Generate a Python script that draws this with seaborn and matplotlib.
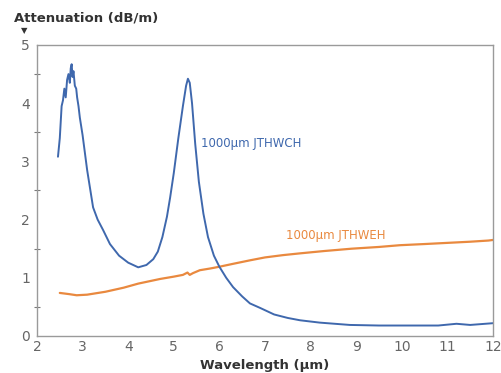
import matplotlib
matplotlib.use("Agg")
import matplotlib.pyplot as plt
import seaborn as sns
import pandas as pd

# Blue curve: 1000um JTHWCH
wch_x = [2.46, 2.50, 2.54, 2.57, 2.60, 2.63, 2.66, 2.69, 2.72, 2.74, 2.76, 2.78, 2.80,
         2.83, 2.86, 2.88, 2.91, 2.94, 2.97, 3.00, 3.10, 3.23, 3.33, 3.45, 3.60, 3.80,
         4.00, 4.22, 4.40, 4.55, 4.65, 4.75, 4.85, 4.92, 5.00, 5.10, 5.20, 5.27, 5.31,
         5.35, 5.40, 5.47, 5.55, 5.65, 5.75, 5.88, 6.00, 6.15, 6.30, 6.50, 6.67, 6.90,
         7.20, 7.50, 7.77, 8.20, 8.86, 9.50, 10.2, 10.8, 11.2, 11.5, 12.0]
wch_y = [3.08, 3.40, 3.95, 4.05, 4.25, 4.10, 4.40, 4.50, 4.35, 4.60, 4.67, 4.45, 4.55,
         4.30, 4.25, 4.10, 3.95, 3.75, 3.60, 3.45, 2.85, 2.21, 2.00, 1.82, 1.58, 1.38,
         1.26, 1.18, 1.22, 1.32, 1.45, 1.70, 2.05, 2.38, 2.80, 3.40, 3.95, 4.30, 4.42,
         4.35, 4.00, 3.30, 2.65, 2.10, 1.70, 1.38, 1.19, 1.00, 0.84, 0.68, 0.56, 0.48,
         0.37, 0.31, 0.27, 0.23, 0.19, 0.18, 0.18, 0.18, 0.21, 0.19, 0.22]

# Orange curve: 1000um JTHWEH
weh_x = [2.50, 2.70, 2.87, 3.10, 3.50, 3.90, 4.22, 4.40, 4.70, 5.00, 5.20, 5.30, 5.35,
         5.42, 5.57, 5.80, 6.00, 6.30, 6.67, 7.00, 7.40, 7.77, 8.30, 8.90, 9.50, 9.96,
         10.5, 11.0, 11.5, 11.9, 12.0]
weh_y = [0.74, 0.72, 0.70, 0.71, 0.76, 0.83, 0.90, 0.93, 0.98, 1.02, 1.05, 1.09, 1.05,
         1.08, 1.13, 1.16, 1.19, 1.24, 1.30, 1.35, 1.39, 1.42, 1.46, 1.50, 1.53, 1.56,
         1.58, 1.60, 1.62, 1.64, 1.65]

x_ticks = [2, 3, 4, 5, 6, 7, 8, 9, 10, 11, 12]
y_ticks = [0, 1, 2, 3, 4, 5]

blue = "#3f68ad"
orange = "#e9893f"

sns.set_theme(style="white")
plt.rcParams['font.family'] = ['DejaVu Sans']

fig = plt.figure(figsize=(5.02, 3.73), dpi=100)
ax = fig.add_axes([0.0737, 0.0992, 0.9083, 0.7802])

df_wch = pd.DataFrame({"x": wch_x, "y": wch_y})
df_weh = pd.DataFrame({"x": weh_x, "y": weh_y})
sns.lineplot(data=df_weh, x="x", y="y", ax=ax, color=orange, linewidth=1.6, sort=False)
sns.lineplot(data=df_wch, x="x", y="y", ax=ax, color=blue, linewidth=1.4, sort=False)

ax.set_xlim(2, 12)
ax.set_ylim(0, 5)
ax.set_xticks(x_ticks)
ax.set_yticks(y_ticks)
ax.set_yticks([0.5, 1.5, 2.5, 3.5, 4.5], minor=True)
ax.set_xlabel("")
ax.set_ylabel("")

gray = "#7a7a7a"
for s in ax.spines.values():
    s.set_color("#9a9a9a")
    s.set_linewidth(1.0)
ax.tick_params(axis="x", which="major", direction="in", length=4, width=0.8,
               color=gray, labelcolor="#666666", labelsize=10, pad=3)
ax.tick_params(axis="y", which="major", direction="inout", length=6, width=0.8,
               color=gray, labelcolor="#666666", labelsize=10, pad=2)
ax.tick_params(axis="y", which="minor", direction="inout", length=4, width=0.8,
               color=gray, left=True)

ax.text(5.6, 3.3, "1000µm JTHWCH", color=blue, fontsize=8.5, va="center", ha="left")
ax.text(7.46, 1.72, "1000µm JTHWEH", color=orange, fontsize=8.5, va="center", ha="left")

fig.text(0.028, 0.952, "Attenuation (dB/m)", fontsize=9.5, fontweight="bold",
         color="#333333", ha="left", va="center")
fig.text(0.048, 0.918, "▼", fontsize=6, color="#333333", ha="center", va="center")
fig.text(0.528, 0.02, "Wavelength (µm)", fontsize=9.5, fontweight="bold",
         color="#333333", ha="center", va="center")

fig.savefig("out.png", dpi=100)
